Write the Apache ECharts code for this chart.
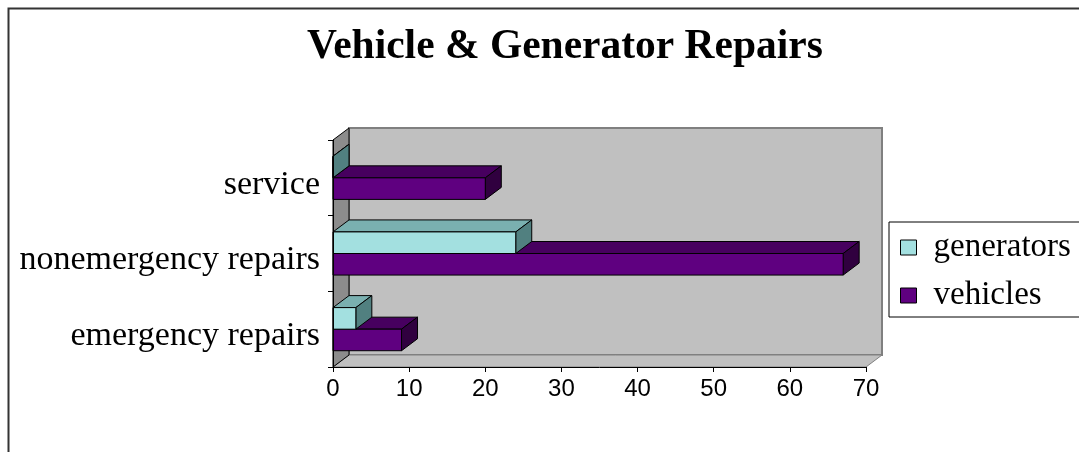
<!DOCTYPE html>
<html>
<head>
<meta charset="utf-8">
<script src="https://cdn.jsdelivr.net/npm/echarts@6/dist/echarts.min.js"></script>
<style>
  html, body { margin: 0; padding: 0; background: #fff; }
  #chart { width: 1079px; height: 452px; }
</style>
</head>
<body>
<div id="chart"></div>
<script>
// categories bottom -> top, as the category axis lays them out
const categories = ['emergency repairs', 'nonemergency repairs', 'service'];
const generators = [3, 24, 0];
const vehicles = [9, 67, 20];
const xTicks = { min: 0, max: 70, interval: 10 };

// depth of the fake 3d look
const DX = 16, DY = -12;

const chart = echarts.init(document.getElementById('chart'));

// one 3d bar: front face, top face and the right side
function barRenderer(upper, face, top, side) {
  return function (params, api) {
    const cat = api.value(1);
    const p0 = api.coord([0, cat]);
    const p1 = api.coord([api.value(0), cat]);
    const band = api.size([0, 1])[1];
    const h = band * 0.285;
    const x0 = p0[0], x1 = p1[0];
    const y0 = upper ? p0[1] - h : p0[1];
    const st = { stroke: '#000', lineWidth: 1 };
    return {
      type: 'group',
      children: [
        { type: 'polygon', shape: { points: [[x0, y0], [x0 + DX, y0 + DY], [x1 + DX, y0 + DY], [x1, y0]] },
          style: Object.assign({ fill: top }, st) },
        { type: 'polygon', shape: { points: [[x1, y0], [x1 + DX, y0 + DY], [x1 + DX, y0 + h + DY], [x1, y0 + h]] },
          style: Object.assign({ fill: side }, st) },
        { type: 'rect', shape: { x: x0, y: y0, width: x1 - x0, height: h },
          style: Object.assign({ fill: face }, st) }
      ]
    };
  };
}

// back wall, side wall and floor behind the bars
function wallRenderer(params) {
  const c = params.coordSys;
  const x = c.x, y = c.y, w = c.width, h = c.height;
  return {
    type: 'group',
    children: [
      { type: 'rect', shape: { x: x + DX, y: y + DY, width: w, height: h },
        style: { fill: '#c0c0c0', stroke: '#808080', lineWidth: 2 } },
      { type: 'polygon', shape: { points: [[x, y + h], [x + DX, y + h + DY], [x + w + DX, y + h + DY], [x + w, y + h]] },
        style: { fill: '#c0c0c0', stroke: '#808080', lineWidth: 1 } },
      { type: 'polygon', shape: { points: [[x, y], [x + DX, y + DY], [x + DX, y + h + DY], [x, y + h]] },
        style: { fill: '#8c8c8c', stroke: '#000', lineWidth: 1 } }
    ]
  };
}

const option = {
  animation: false,
  backgroundColor: '#fff',
  graphic: [{
    type: 'rect', left: 6, top: 6, silent: true,
    shape: { width: 1200, height: 600 },
    style: { fill: 'none', stroke: '#333', lineWidth: 2 }
  }],
  title: {
    text: 'Vehicle & Generator Repairs',
    left: 302, top: 21,
    textStyle: { fontFamily: 'Liberation Serif', fontWeight: 'bold', fontSize: 41.5, color: '#000' }
  },
  legend: {
    data: ['generators', 'vehicles'],
    orient: 'vertical',
    left: 889, top: 222,
    width: 190,
    padding: [9, 10, 5, 11],
    itemGap: 15,
    itemWidth: 16, itemHeight: 15,
    icon: 'rect',
    itemStyle: { borderColor: '#000', borderWidth: 1 },
    borderColor: '#000', borderWidth: 1,
    textStyle: { fontFamily: 'Liberation Serif', fontSize: 33, color: '#000', lineHeight: 30, padding: [0, 0, 0, 12] }
  },
  grid: { left: 333, right: 213, top: 140, bottom: 85 },
  xAxis: {
    type: 'value',
    min: xTicks.min, max: xTicks.max, interval: xTicks.interval,
    z: 10,
    splitLine: { show: false },
    axisLine: { show: true, lineStyle: { color: '#000', width: 1 } },
    axisTick: { show: true, length: 5, lineStyle: { color: '#000' } },
    axisLabel: { fontFamily: 'Liberation Sans', fontSize: 24, color: '#000', margin: 10 }
  },
  yAxis: {
    type: 'category',
    data: categories,
    z: 10,
    axisLine: { show: true, lineStyle: { color: '#000', width: 1 } },
    axisTick: { show: true, length: 5, lineStyle: { color: '#000' } },
    axisLabel: {
      margin: 13,
      formatter: v => '{c|' + v + '}',
      rich: { c: { fontFamily: 'Liberation Serif', fontSize: 34, color: '#000', padding: [14, 0, 0, 0] } }
    }
  },
  series: [
    {
      name: 'walls', type: 'custom', silent: true, z: 1,
      renderItem: wallRenderer, data: [[0, 0]]
    },
    {
      name: 'vehicles', type: 'custom', z: 2,
      itemStyle: { color: '#5f0080' },
      renderItem: barRenderer(false, '#5f0080', '#47005f', '#30003f'),
      encode: { x: 0, y: 1 },
      data: vehicles.map((v, i) => [v, i])
    },
    {
      name: 'generators', type: 'custom', z: 3,
      itemStyle: { color: '#a3e0e0' },
      renderItem: barRenderer(true, '#a3e0e0', '#7ab0b0', '#518080'),
      encode: { x: 0, y: 1 },
      data: generators.map((v, i) => [v, i])
    }
  ]
};

chart.setOption(option);
</script>
</body>
</html>
